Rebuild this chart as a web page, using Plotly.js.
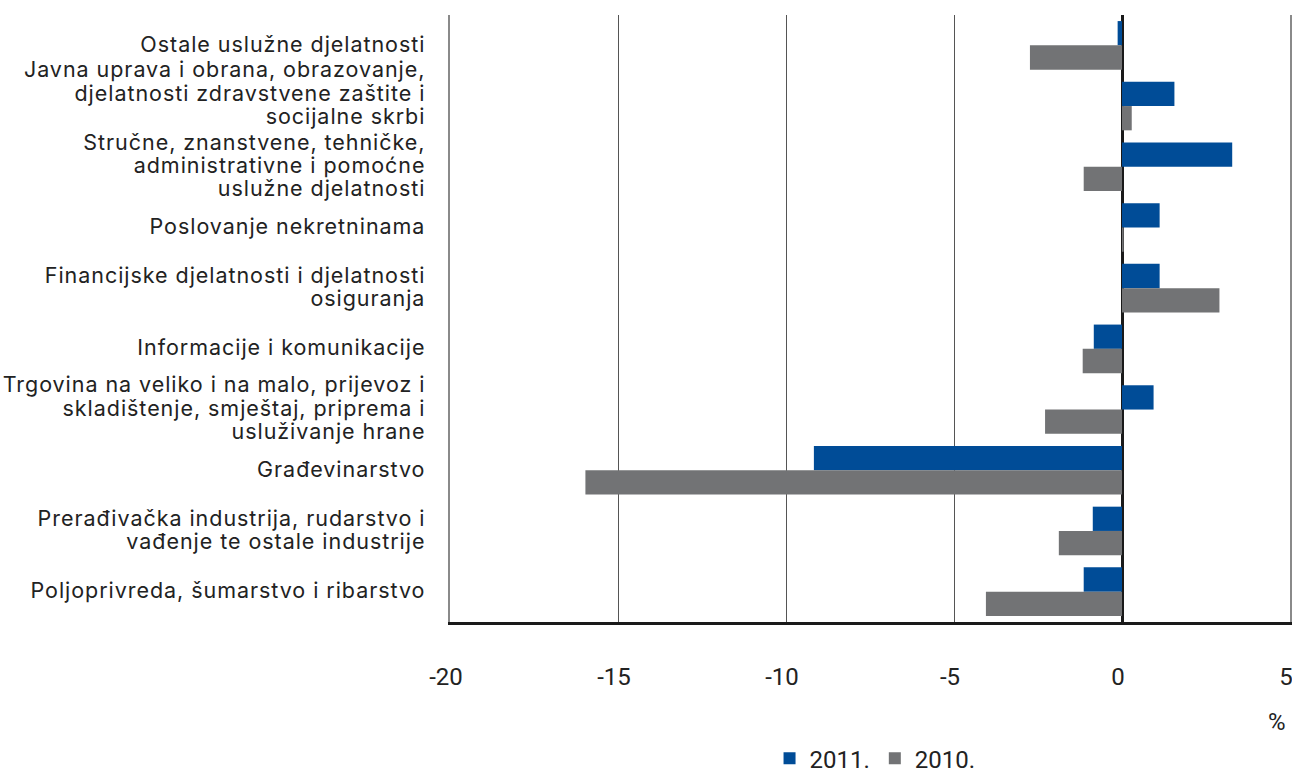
<!DOCTYPE html>
<html>
<head>
<meta charset="utf-8">
<script src="https://cdn.plot.ly/plotly-3.0.1.min.js"></script>
<style>body{margin:0;background:#fff;}</style>
</head>
<body>
<div id="chart" style="width:1292px;height:772px;"></div>
<script>
const categories = [
  "Ostale uslužne djelatnosti",
  "Javna uprava i obrana, obrazovanje,<br>djelatnosti zdravstvene zaštite i<br>socijalne skrbi<br>&nbsp;",
  "Stručne, znanstvene, tehničke,<br>administrativne i pomoćne<br>uslužne djelatnosti",
  "Poslovanje nekretninama",
  "Financijske djelatnosti i djelatnosti<br>osiguranja",
  "Informacije i komunikacije",
  "Trgovina na veliko i na malo, prijevoz i<br>skladištenje, smještaj, priprema i<br>usluživanje hrane",
  "Građevinarstvo",
  "Prerađivačka industrija, rudarstvo i<br>vađenje te ostale industrije",
  "Poljoprivreda, šumarstvo i ribarstvo"
];
const values2011 = [-0.13, 1.56, 3.28, 1.12, 1.12, -0.84, 0.94, -9.17, -0.87, -1.14];
const values2010 = [-2.74, 0.29, -1.14, 0.05, 2.90, -1.17, -2.29, -15.97, -1.88, -4.05];
const seriesNames = ["2011.", "2010."];
const xTicks = [-20, -15, -10, -5, 0, 5];
const xTickLabels = ["-20", "-15", "-10", "-5", "0", "5"];
const unitLabel = "%";

const labelStyle = "font-size:21.5px;letter-spacing:0.95px";
const tickText = categories.map(c => c.split("<br>").map(l => '<span style="' + labelStyle + '">' + l + '</span>').join("<br>"));
const boundaries = categories.map((c, i) => i - 0.5).concat([categories.length - 0.5]);

const traces = [
  {type: "bar", orientation: "h", name: seriesNames[0], y: categories, x: values2011,
   marker: {color: "#004C97"}, hoverinfo: "x+name"},
  {type: "bar", orientation: "h", name: seriesNames[1], y: categories, x: values2010,
   marker: {color: "#727375"}, hoverinfo: "x+name"}
];

const layout = {
  width: 1292, height: 772,
  margin: {l: 450, r: 2, t: 15, b: 150, autoexpand: false},
  paper_bgcolor: "#fff", plot_bgcolor: "#fff",
  barmode: "group", bargap: 0.2, bargroupgap: 0,
  font: {family: "Roboto, sans-serif", color: "#222"},
  xaxis: {
    range: [-20, 5], tickvals: xTicks, ticktext: xTickLabels,
    showgrid: true, gridcolor: "#555", gridwidth: 1,
    zeroline: true, zerolinecolor: "#1a1a1a", zerolinewidth: 3,
    showline: true, linecolor: "#1a1a1a", linewidth: 3,
    ticks: "outside", ticklen: 31, tickcolor: "rgba(0,0,0,0)",
    ticklabelshift: -4, ticklabeloverflow: "allow",
    tickfont: {family: "Roboto, sans-serif", size: 24, color: "#222"},
    fixedrange: true
  },
  yaxis: {
    type: "category", autorange: "reversed",
    tickvals: categories, ticktext: tickText,
    showline: true, linecolor: "#8a8a8a", linewidth: 2, mirror: true,
    showgrid: false, zeroline: false,
    ticks: "outside", ticklen: 19, tickcolor: "rgba(0,0,0,0)",
    tickfont: {family: "Inter, sans-serif", size: 18, color: "#222"},
    fixedrange: true
  },
  yaxis2: {
    overlaying: "y", anchor: "free", position: 0.8, side: "left",
    range: [-0.5, categories.length - 0.5],
    tickvals: boundaries, showticklabels: false,
    ticks: "outside", ticklen: 8, tickwidth: 2, tickcolor: "#1a1a1a",
    showgrid: false, zeroline: false, showline: false, fixedrange: true
  },
  legend: {
    orientation: "h", x: 0.506, xanchor: "center", y: -0.188, yanchor: "top",
    font: {family: "Roboto, sans-serif", size: 24, color: "#222"},
    bgcolor: "rgba(0,0,0,0)"
  },
  annotations: [{
    text: unitLabel, xref: "paper", yref: "paper", x: 0.985, y: -0.165,
    xanchor: "center", yanchor: "middle", showarrow: false,
    font: {family: "Roboto, sans-serif", size: 24, color: "#222"}
  }]
};

Plotly.newPlot("chart", traces, layout, {displayModeBar: false, staticPlot: true});
</script>
</body>
</html>
